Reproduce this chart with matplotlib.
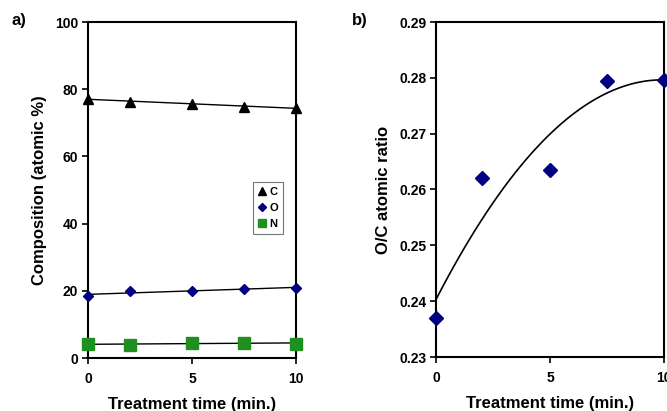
import numpy as np
import matplotlib.pyplot as plt

"""Data read from the figure"""
time = [0, 2, 5, 7.5, 10]
carbon = [77.2, 76.3, 75.6, 74.8, 74.5]
oxygen = [18.6, 19.8, 19.9, 20.6, 20.9]
nitrogen = [4.1, 3.9, 4.6, 4.5, 4.3]
oc_ratio = [0.237, 0.262, 0.2635, 0.2795, 0.2797]

plt.rcParams['font.family'] = ['Liberation Sans', 'DejaVu Sans']
plt.rcParams['font.weight'] = 'bold'

fig = plt.figure(figsize=(6.67, 4.11), dpi=100)
W, H = 667, 411
axA = fig.add_axes([88 / W, 1 - 358 / H, (296 - 88) / W, (358 - 22) / H])
axB = fig.add_axes([436 / W, 1 - 357 / H, (664 - 436) / W, (357 - 22) / H])

green = '#1f8f1f'
navy = '#000080'

"""Panel a: composition with linear trendlines"""
xs = np.linspace(0, 10, 50)
for vals, m, c, ms, lab in [(carbon, '^', 'black', 7.5, 'C'),
                            (oxygen, 'D', navy, 5, 'O'),
                            (nitrogen, 's', green, 8, 'N')]:
    p = np.polyfit(time, vals, 1)
    axA.plot(xs, np.polyval(p, xs), color='black', lw=1.0, zorder=2)
    axA.plot(time, vals, linestyle='none', marker=m, color=c, ms=ms,
             label=lab, zorder=3, clip_on=False)

axA.set_xlim(0, 10)
axA.set_ylim(0, 100)
axA.set_xticks([0, 5, 10])
axA.set_yticks([0, 20, 40, 60, 80, 100])
axA.set_xlabel("Treatment time (min.)", fontsize=12, fontweight='bold',
               labelpad=8)
axA.set_ylabel("Composition (atomic %)", fontsize=12, fontweight='bold',
               labelpad=6)
leg = axA.legend(loc='upper left', bbox_to_anchor=(0.795, 0.525), fontsize=8,
                 frameon=True, fancybox=False, handlelength=0.7,
                 handletextpad=0.3, borderpad=0.45, labelspacing=0.55,
                 markerscale=0.8, borderaxespad=0)
leg.get_frame().set_edgecolor('#555555')
leg.get_frame().set_linewidth(0.8)

"""Panel b: O/C ratio with 2nd order polynomial fit"""
p2 = np.polyfit(time, oc_ratio, 2)
axB.plot(xs, np.polyval(p2, xs), color='black', lw=1.2, zorder=2)
axB.plot(time, oc_ratio, linestyle='none', marker='D', color=navy, ms=7.5,
         zorder=3, clip_on=False)
axB.set_xlim(0, 10)
axB.set_ylim(0.23, 0.29)
axB.set_xticks([0, 5, 10])
axB.set_yticks([0.23, 0.24, 0.25, 0.26, 0.27, 0.28, 0.29])
axB.set_yticklabels(["%.2f" % v for v in axB.get_yticks()])
axB.set_xlabel("Treatment time (min.)", fontsize=12, fontweight='bold',
               labelpad=8)
axB.set_ylabel("O/C atomic ratio", fontsize=12, fontweight='bold',
               labelpad=6)

for ax in (axA, axB):
    for s in ax.spines.values():
        s.set_linewidth(1.5)
    ax.tick_params(direction='out', length=4, width=1.2, labelsize=10, pad=6)
    ax.tick_params(axis='y', pad=3)
    for t in ax.get_xticklabels() + ax.get_yticklabels():
        t.set_fontweight('bold')

fig.text(12 / W, 1 - 20 / H, "a)", fontsize=12, fontweight='bold', va='center')
fig.text(352 / W, 1 - 20 / H, "b)", fontsize=12, fontweight='bold', va='center')

fig.savefig("out.png", dpi=100)
